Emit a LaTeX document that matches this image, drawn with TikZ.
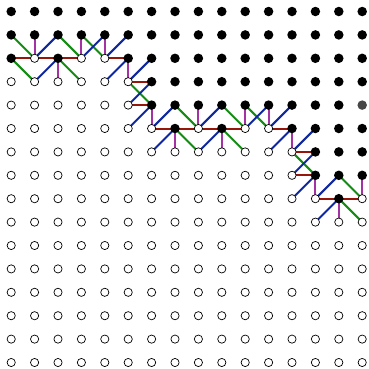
\documentclass[tikz,border=0pt]{standalone}
\usetikzlibrary{backgrounds}
\definecolor{edgered}{RGB}{150,22,10}
\definecolor{edgegreen}{RGB}{20,140,20}
\definecolor{edgeblue}{RGB}{15,40,160}
\definecolor{edgepurple}{RGB}{165,50,165}
\tikzset{
  filldot/.style={circle,fill=black,inner sep=0pt,minimum size=9.5pt},
  graydot/.style={circle,fill=black!72,inner sep=0pt,minimum size=9.5pt},
  opendot/.style={circle,draw=black,fill=white,line width=0.7pt,inner sep=0pt,minimum size=8.2pt},
  edgebase/.style={line width=2pt},
  hred/.style={edgebase,draw=edgered},
  vpurple/.style={edgebase,draw=edgepurple},
  dgreen/.style={edgebase,draw=edgegreen},
  dblue/.style={edgebase,draw=edgeblue},
}
\begin{document}
\begin{tikzpicture}[x=1pt,y=-1pt]
\useasboundingbox (0,0) rectangle (369,368);
% dots
\foreach \c in {0,...,15} {
  \pgfmathtruncatemacro\d{{2,1,2,1,1,2,4,5,4,5,4,4,5,7,8,7}[\c]}
  \foreach \r in {0,...,15} {
    \ifnum\r>\d
      \node[opendot] (n-\r-\c) at (\c*23.4+11.2,\r*23.4+11.5) {};
    \else
      \ifnum\r=4 \ifnum\c=15
        \node[graydot] (n-\r-\c) at (\c*23.4+11.2,\r*23.4+11.5) {};
      \else
        \node[filldot] (n-\r-\c) at (\c*23.4+11.2,\r*23.4+11.5) {};
      \fi
      \else
        \node[filldot] (n-\r-\c) at (\c*23.4+11.2,\r*23.4+11.5) {};
      \fi
    \fi
  }
}
\begin{pgfonlayer}{background}
% horizontal (red)
\foreach \r/\a/\b in {2/0/1,2/1/2,2/2/3,2/4/5,3/5/6,4/5/6,5/6/7,5/7/8,5/8/9,5/9/10,5/11/12,6/12/13,7/12/13,8/13/14,8/14/15}
  \draw[hred] (n-\r-\a.center) -- (n-\r-\b.center);
% vertical (purple)
\foreach \r/\c in {1/1,1/3,1/4,2/2,2/5,4/6,4/8,4/10,4/11,5/7,5/9,5/12,7/13,7/15,8/14} {
  \pgfmathtruncatemacro\rr{\r+1}
  \draw[vpurple] (n-\r-\c.center) -- (n-\rr-\c.center);
}
% down-right (green)
\foreach \r/\c in {1/0,1/2,1/3,2/0,2/2,3/5,4/7,4/9,4/10,5/7,5/9,6/12,7/14,8/14} {
  \pgfmathtruncatemacro\rr{\r+1}
  \pgfmathtruncatemacro\cc{\c+1}
  \draw[dgreen] (n-\r-\c.center) -- (n-\rr-\cc.center);
}
% up-right (blue), given by lower-left end
\foreach \r/\c in {2/1,2/3,2/4,3/1,3/4,3/5,4/5,5/5,5/6,5/8,5/10,5/11,6/6,6/8,6/11,6/12,7/12,8/12,8/13,9/13} {
  \pgfmathtruncatemacro\rr{\r-1}
  \pgfmathtruncatemacro\cc{\c+1}
  \draw[dblue] (n-\r-\c.center) -- (n-\rr-\cc.center);
}
\end{pgfonlayer}
\end{tikzpicture}
\end{document}
